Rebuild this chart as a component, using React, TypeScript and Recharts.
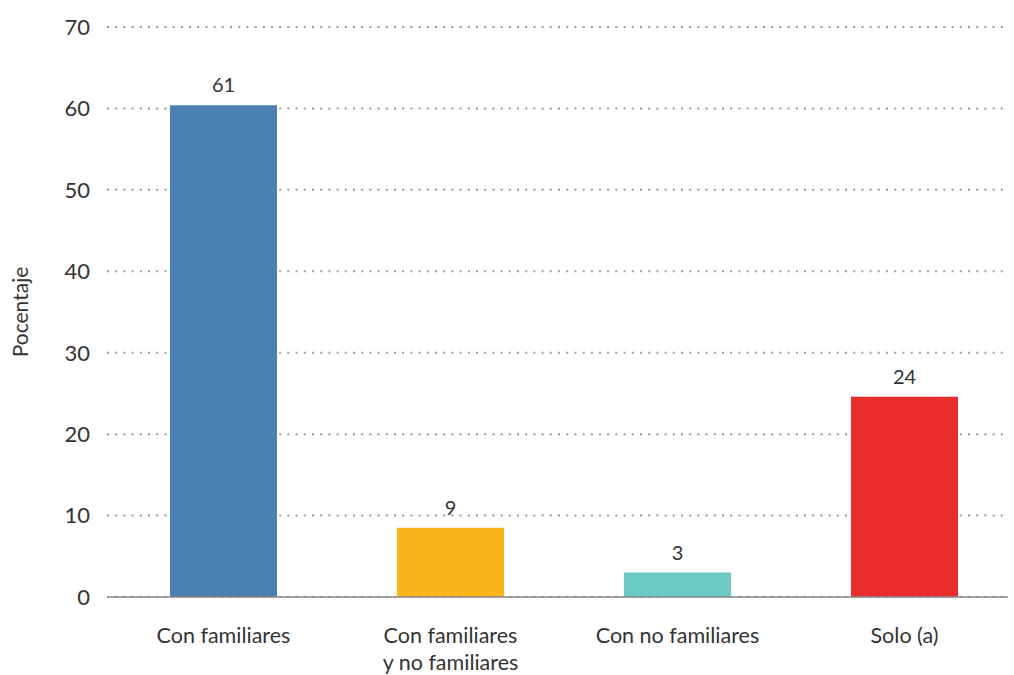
import React from 'react';
import { BarChart, Bar, XAxis, YAxis, CartesianGrid, Cell, LabelList } from 'recharts';

const categories = ['Con familiares', 'Con familiares\ny no familiares', 'Con no familiares', 'Solo (a)'];
const values = [60.4, 8.5, 3.0, 24.6];
const valueLabels = ['61', '9', '3', '24'];
const barColors = ['#4a80b4', '#fbb41c', '#6ccac4', '#e92c2c'];
const yTicks = [0, 10, 20, 30, 40, 50, 60, 70];

const data = categories.map((c, i) => ({ name: c, value: values[i], label: valueLabels[i] }));

const FONT = 'Lato, "Open Sans", sans-serif';

// tick de categoría en varias líneas
const CategoryTick = ({ x, payload }: any) => {
  const lines = String(payload.value).split('\n');
  return (
    <text x={x} y={597} textAnchor="middle" fill="#333" fontSize={21.5} fontFamily={FONT}>
      {lines.map((l, i) => (
        <tspan key={i} x={x} dy={i === 0 ? 46 : 27}>
          {l}
        </tspan>
      ))}
    </text>
  );
};

export default function App() {
  return (
    <div style={{ position: 'absolute', top: 0, left: 0, width: 1014, height: 675, background: '#fff' }}>
      <BarChart
        width={1014}
        height={675}
        data={data}
        margin={{ top: 27, right: 6, left: 0, bottom: 0 }}
      >
        <CartesianGrid
          vertical={false}
          stroke="#9a9a9a"
          strokeWidth={2}
          strokeDasharray="2 6.2"
        />
        <XAxis
          dataKey="name"
          height={78}
          tick={<CategoryTick />}
          tickLine={false}
          axisLine={{ stroke: '#888', strokeWidth: 1.5 }}
          interval={0}
          padding={{ left: 3, right: -10 }}
        />
        <YAxis
          domain={[0, 70]}
          ticks={yTicks}
          width={107}
          tickLine={false}
          axisLine={false}
          tickMargin={11}
          tick={{ fontSize: 22, fill: '#333', fontFamily: FONT }}
          label={{
            value: 'Pocentaje',
            angle: -90,
            position: 'center',
            dx: -33,
            fontSize: 21,
            fill: '#333',
            fontFamily: FONT,
          }}
        />
        <Bar dataKey="value" barSize={107} isAnimationActive={false}>
          {data.map((d, i) => (
            <Cell key={d.name} fill={barColors[i]} />
          ))}
          <LabelList
            dataKey="label"
            position="top"
            offset={13}
            fill="#333"
            fontSize={20}
            fontFamily={FONT}
          />
        </Bar>
      </BarChart>
    </div>
  );
}
